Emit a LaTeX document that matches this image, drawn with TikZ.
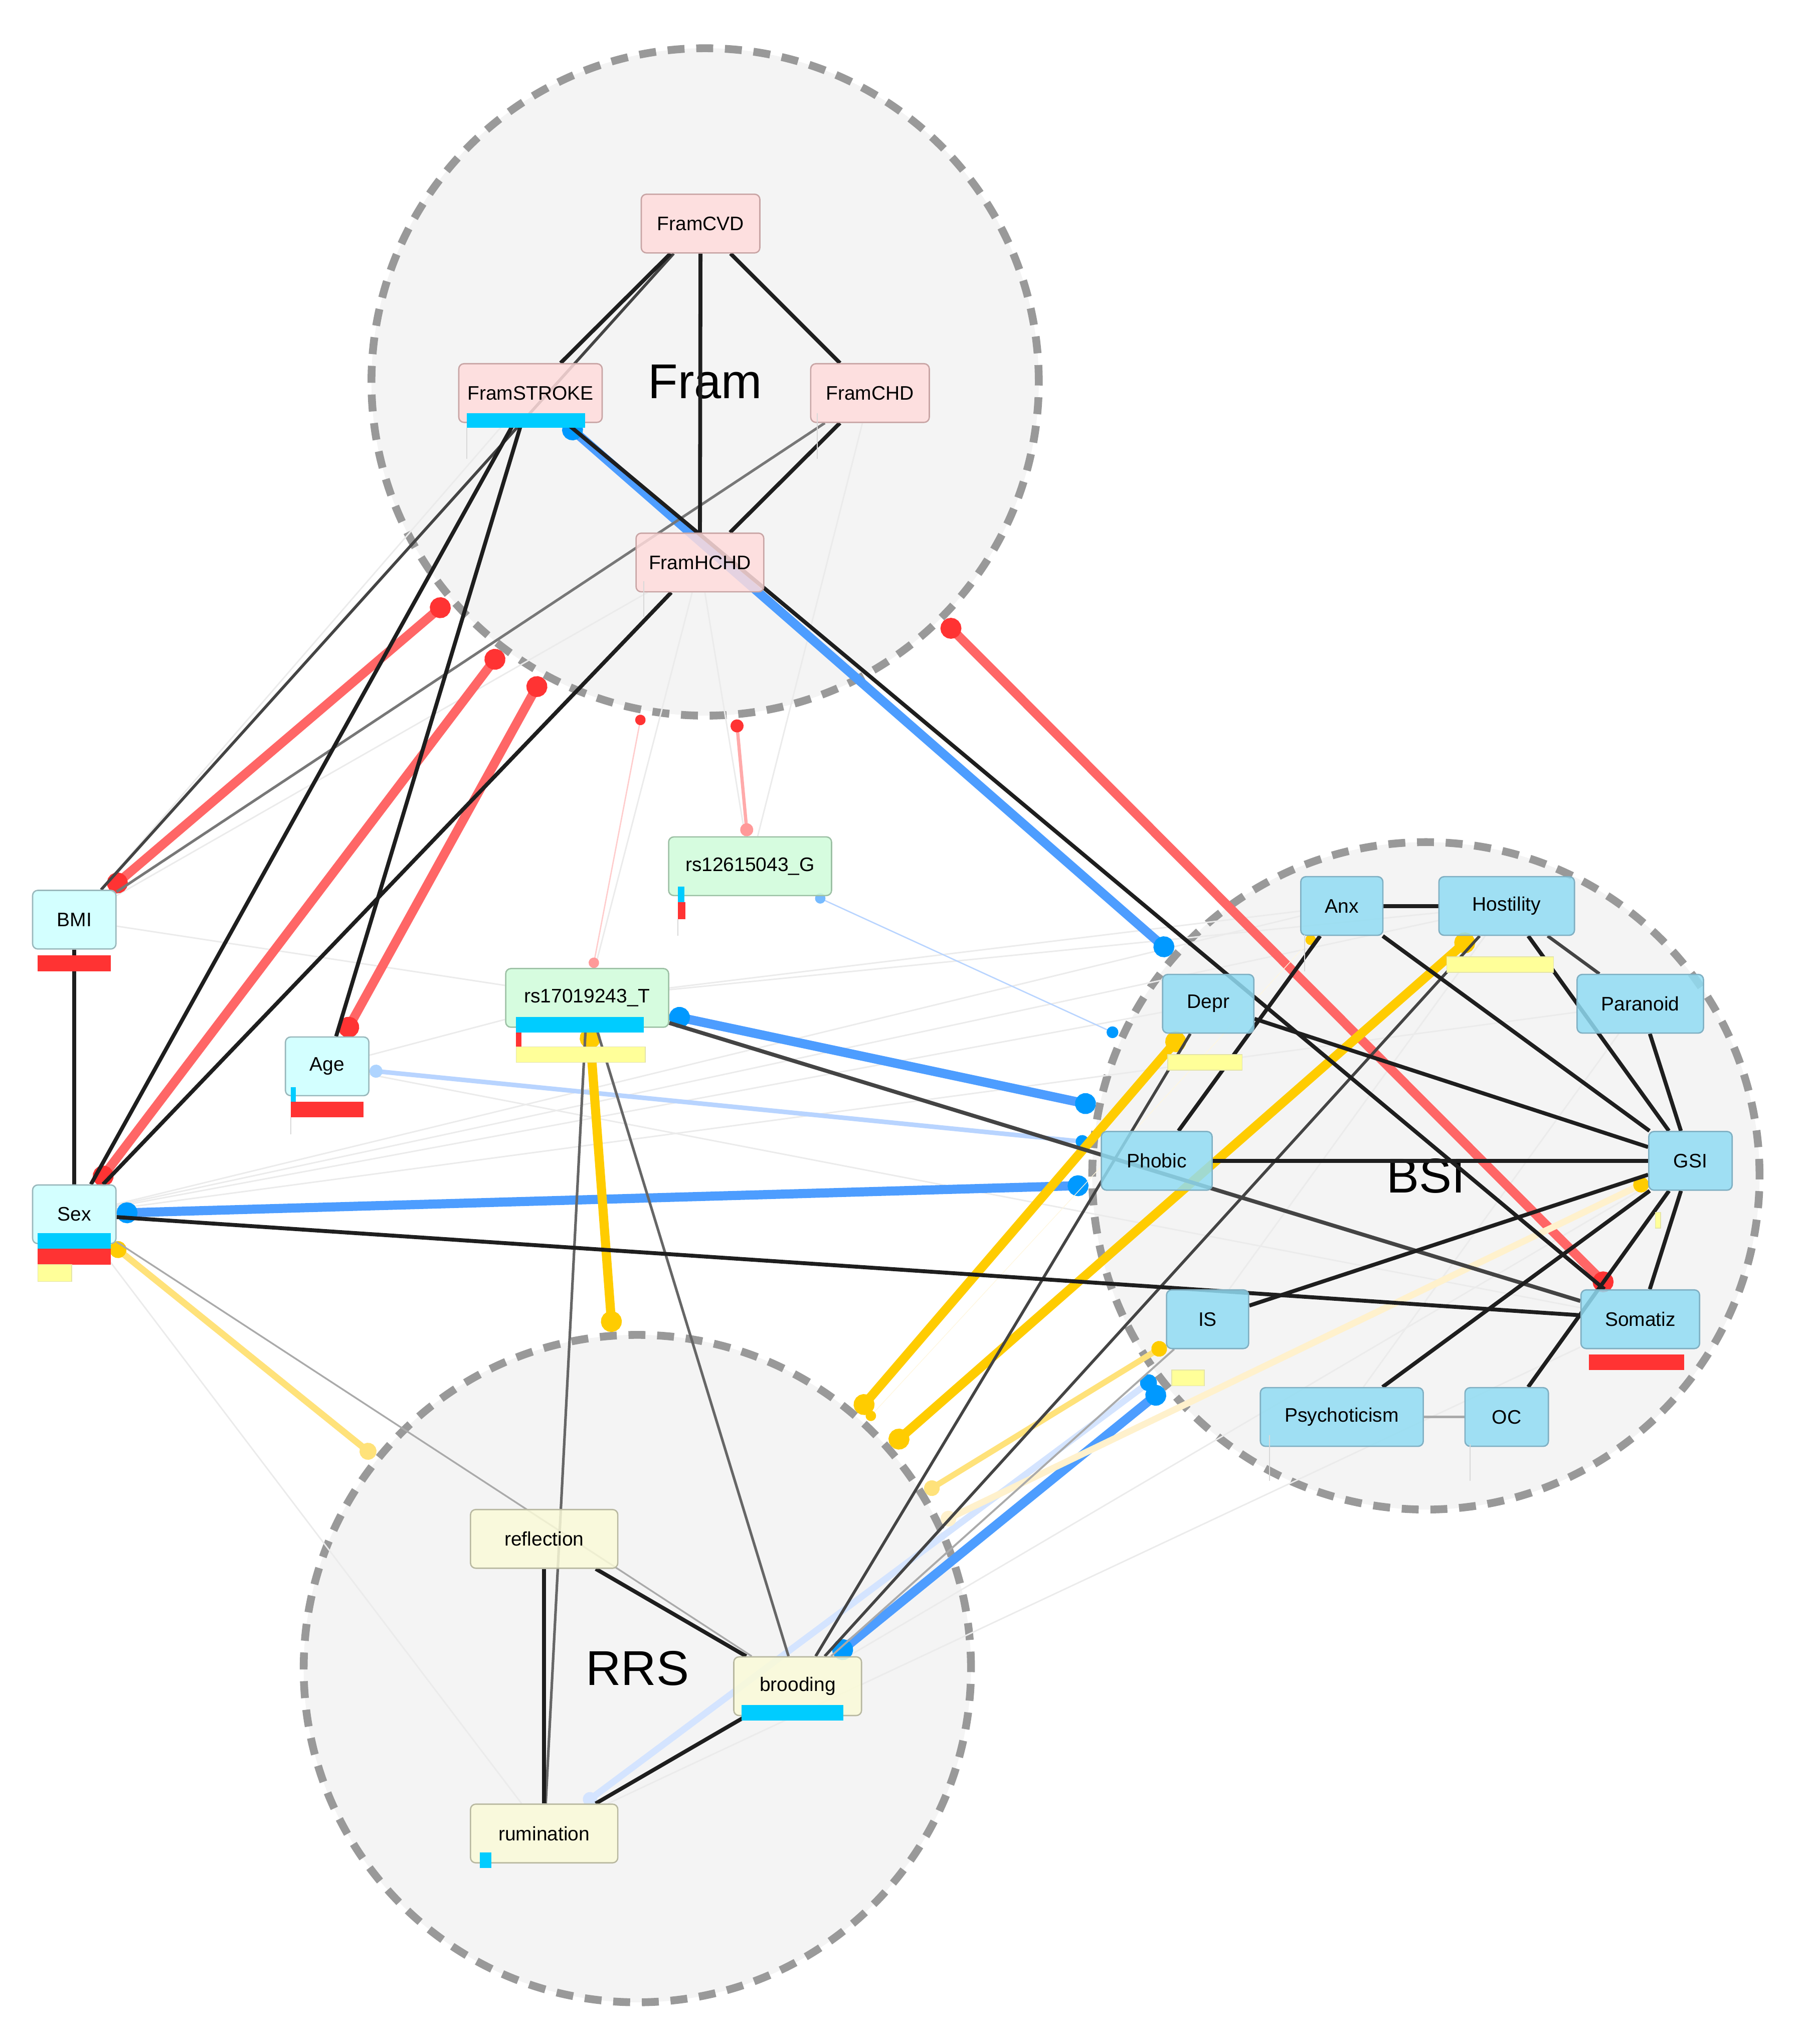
\documentclass[tikz,border=0pt]{standalone}
\usepackage{fontspec}
\setmainfont{Liberation Sans}
\usetikzlibrary{arrows.meta,calc}
\definecolor{framfill}{HTML}{FFDCDC}
\definecolor{framdraw}{HTML}{C8A4A4}
\definecolor{snpfill}{HTML}{CFFCDA}
\definecolor{snpdraw}{HTML}{9CC0A4}
\definecolor{covfill}{HTML}{CCFFFF}
\definecolor{covdraw}{HTML}{99B8BC}
\definecolor{bsifill}{HTML}{91DCF3}
\definecolor{bsidraw}{HTML}{7FAFC2}
\definecolor{rrsfill}{HTML}{FBFBD8}
\definecolor{rrsdraw}{HTML}{B8B8A0}
\definecolor{grpfill}{HTML}{F4F4F4}
\definecolor{grpdraw}{HTML}{999999}
\definecolor{barcyan}{HTML}{00CCFF}
\definecolor{barred}{HTML}{FF3333}
\definecolor{baryel}{HTML}{FFFF99}
\definecolor{baryeldraw}{HTML}{E4E4A8}
\definecolor{eblack}{HTML}{1E1E1E}
\definecolor{edark}{HTML}{444444}
\definecolor{emid}{HTML}{666666}
\definecolor{egray}{HTML}{777777}
\definecolor{elight}{HTML}{AAAAAA}
\definecolor{efaint}{HTML}{EBEBEB}
\definecolor{eaxis}{HTML}{D8D8D8}
\definecolor{redline}{HTML}{FF6666}
\definecolor{reddot}{HTML}{FF3333}
\definecolor{pinkline}{HTML}{FFAAAA}
\definecolor{pinkline2}{HTML}{FFCCCC}
\definecolor{pinkdot}{HTML}{FF9999}
\definecolor{blueline}{HTML}{4D9DFF}
\definecolor{bluedot}{HTML}{0099FF}
\definecolor{midbluedot}{HTML}{77BBFF}
\definecolor{lblueline}{HTML}{B8D4FF}
\definecolor{lbluedot}{HTML}{AED4FF}
\definecolor{llblueline}{HTML}{D4E4FF}
\definecolor{yelline}{HTML}{FFCC00}
\definecolor{yeldot}{HTML}{FFCC00}
\definecolor{lyelline}{HTML}{FFE27A}
\definecolor{llyelline}{HTML}{FFF1CC}
\definecolor{lllyelline}{HTML}{FFF7E0}
\pgfdeclarelayer{groups}
\pgfdeclarelayer{edges}
\pgfsetlayers{groups,edges,main}
\tikzset{
  nd/.style={rectangle, rounded corners=4pt, minimum height=45pt, inner sep=0pt, line width=1pt,
    font=\fontsize{15}{18}\selectfont, fill opacity=0.85, text opacity=1},
  framnd/.style={nd, fill=framfill, draw=framdraw},
  snpnd/.style={nd, fill=snpfill, draw=snpdraw},
  covnd/.style={nd, fill=covfill, draw=covdraw},
  bsind/.style={nd, fill=bsifill, draw=bsidraw},
  rrsnd/.style={nd, fill=rrsfill, draw=rrsdraw},
  grp/.style={circle, minimum size=512pt, inner sep=0pt, fill=grpfill, draw=grpdraw, line width=6pt,
    dash pattern=on 13pt off 9pt, font=\fontsize{37.5}{40}\selectfont},
  ln/.style 2 args={line width=#1, draw=#2},
  blk/.style={line width=3pt, draw=eblack},
  fnt/.style={line width=1.1pt, draw=efaint},
  axisln/.style={line width=0.8pt, draw=eaxis},
  ge/.style n args={6}{line width=#1, draw=#2, {Circle[length=#3,color=#4]}-{Circle[length=#5,color=#6]}},
  ybar/.style={fill=baryel, draw=baryeldraw, line width=0.6pt},
}
\begin{document}
\begin{tikzpicture}[x=1pt,y=-1pt]
\useasboundingbox (0,0) rectangle (1384,1568);
\begin{pgfonlayer}{groups}
\fill[white] (0,0) rectangle (1384,1568);
\node[grp] (FramG) at (541,293) {Fram};
\node[grp] (BSIG) at (1094,902) {BSI};
\node[grp] (RRSG) at (489,1280) {RRS};
\end{pgfonlayer}

% nodes
\node[framnd, minimum width=91pt] (FramCVD) at (537.5,171.5) {FramCVD};
\node[framnd, minimum width=110pt] (FramSTROKE) at (407,301.5) {FramSTROKE};
\node[framnd, minimum width=91pt] (FramCHD) at (667.5,301.5) {FramCHD};
\node[framnd, minimum width=98pt] (FramHCHD) at (537,431.5) {FramHCHD};
\node[snpnd, minimum width=125pt] (rsG) at (575.5,664.5) {rs12615043\_G};
\node[snpnd, minimum width=125pt] (rsT) at (450.5,765.5) {rs17019243\_T};
\node[covnd, minimum width=64pt] (BMI) at (57,705.5) {BMI};
\node[covnd, minimum width=64pt] (Age) at (251,818) {Age};
\node[covnd, minimum width=64pt] (Sex) at (57,931.5) {Sex};
\node[bsind, minimum width=63pt] (Anx) at (1029.5,695) {Anx};
\node[bsind, minimum width=104pt] (Hostility) at (1156,695) {Hostility};
\node[bsind, minimum width=70pt] (Depr) at (927,770) {Depr};
\node[bsind, minimum width=97pt] (Paranoid) at (1258.5,770) {Paranoid};
\node[bsind, minimum width=85pt] (Phobic) at (887.5,890.5) {Phobic};
\node[bsind, minimum width=64pt] (GSI) at (1297,890.5) {GSI};
\node[bsind, minimum width=63pt] (IS) at (926.5,1012) {IS};
\node[bsind, minimum width=91pt] (Somatiz) at (1258.5,1012) {Somatiz};
\node[bsind, minimum width=125pt] (Psychoticism) at (1029.5,1087) {Psychoticism};
\node[bsind, minimum width=64pt] (OC) at (1156,1087) {OC};
\node[rrsnd, minimum width=113pt] (reflection) at (417.5,1180.5) {reflection};
\node[rrsnd, minimum width=98pt] (brooding) at (612,1293.5) {brooding};
\node[rrsnd, minimum width=113pt] (rumination) at (417.5,1406.5) {rumination};

\begin{pgfonlayer}{edges}
% faint edges
\draw[fnt] (Sex) -- (Anx);
\draw[fnt] (Sex) -- (Hostility);
\draw[fnt] (Sex) -- (Depr);
\draw[fnt] (Sex) -- (Paranoid);
\draw[fnt] (Sex) -- (rumination);
\draw[fnt] (BMI) -- (rsT);
\draw[fnt] (BMI) -- (FramHCHD);
\draw[fnt] (BMI) -- (FramSTROKE);
\draw[fnt] (Age) -- (rsT);
\draw[fnt] (Age) -- (Somatiz);
\draw[fnt] (rsT) -- (Anx);
\draw[fnt] (rsT) -- (Hostility);
\draw[fnt] (FramHCHD) -- (rsT);
\draw[fnt] (FramCHD) -- (rsG);
\draw[fnt] (FramHCHD) -- (rsG);
\draw[fnt] (Somatiz) -- (rumination);
\draw[fnt] (GSI) -- (brooding);
\draw[fnt] (Psychoticism) -- (Paranoid);
\draw[fnt] (Hostility) -- (IS);

% group edges
\draw[ge={7pt}{redline}{16pt}{reddot}{16pt}{reddot}] (BMI) -- ($(FramG)!259pt!(BMI)$);
\draw[ge={7pt}{redline}{16pt}{reddot}{16pt}{reddot}] (Sex) -- ($(FramG)!259pt!(Sex)$);
\draw[ge={7pt}{redline}{16pt}{reddot}{16pt}{reddot}] (Age) -- ($(FramG)!259pt!(Age)$);
\draw[ge={7pt}{redline}{16pt}{reddot}{16pt}{reddot}] (Somatiz) -- ($(FramG)!259pt!(Somatiz)$);
\draw[ge={2.5pt}{pinkline}{10pt}{pinkdot}{10pt}{reddot}] (rsG) -- ($(FramG)!260pt!(rsG)$);
\draw[ge={1pt}{pinkline2}{8pt}{pinkdot}{8pt}{reddot}] (rsT) -- ($(FramG)!260pt!(rsT)$);

\draw[ge={7pt}{blueline}{16pt}{bluedot}{16pt}{bluedot}] (FramSTROKE) -- ($(BSIG)!259pt!(FramSTROKE)$);
\draw[ge={7pt}{blueline}{16pt}{bluedot}{16pt}{bluedot}] (rsT) -- ($(BSIG)!259pt!(rsT)$);
\draw[ge={7pt}{blueline}{16pt}{bluedot}{16pt}{bluedot}] (Sex) -- ($(BSIG)!259pt!(Sex)$);
\draw[ge={7pt}{blueline}{16pt}{bluedot}{16pt}{bluedot}] (brooding) -- ($(BSIG)!259pt!(brooding)$);
\draw[ge={1pt}{lblueline}{8pt}{midbluedot}{9pt}{bluedot}] (rsG) -- ($(BSIG)!260pt!(rsG)$);
\draw[ge={3.5pt}{lblueline}{10pt}{lbluedot}{10pt}{bluedot}] (Age) -- ($(BSIG)!260pt!(Age)$);
\draw[ge={5pt}{llblueline}{11pt}{llblueline}{13pt}{bluedot}] (rumination) -- ($(BSIG)!259pt!(rumination)$);

\draw[ge={7pt}{yelline}{16pt}{yeldot}{16pt}{yeldot}] (rsT) -- ($(RRSG)!259pt!(rsT)$);
\draw[ge={7pt}{yelline}{16pt}{yeldot}{16pt}{yeldot}] (Depr) -- ($(RRSG)!259pt!(Depr)$);
\draw[ge={7pt}{yelline}{16pt}{yeldot}{16pt}{yeldot}] (Hostility) -- ($(RRSG)!259pt!(Hostility)$);
\draw[ge={5pt}{lyelline}{13pt}{yeldot}{13pt}{lyelline}] (Sex) -- ($(RRSG)!259pt!(Sex)$);
\draw[ge={4.5pt}{lyelline}{12pt}{yeldot}{12pt}{lyelline}] (IS) -- ($(RRSG)!259pt!(IS)$);
\draw[ge={5pt}{llyelline}{12pt}{yeldot}{12pt}{llyelline}] (GSI) -- ($(RRSG)!259pt!(GSI)$);
\draw[ge={0.5pt}{lllyelline}{8pt}{yeldot}{8pt}{yeldot}] (Anx) -- ($(RRSG)!260pt!(Anx)$);

% grey edges
\draw[ln={2.2pt}{edark}] (FramCVD) -- (BMI);
\draw[ln={2pt}{egray}] (FramCHD) -- (BMI);
\draw[ln={1.3pt}{elight}] (Sex) -- (brooding);
\draw[ln={1.5pt}{elight}] (IS) -- (brooding);
\draw[ln={2pt}{emid}] (rsT) -- (rumination);
\draw[ln={2pt}{emid}] (rsT) -- (brooding);
\draw[ln={2.2pt}{edark}] (Depr) -- (brooding);
\draw[ln={2.2pt}{edark}] (Hostility) -- (brooding);
\draw[ln={2.5pt}{edark}] (Hostility) -- (Paranoid);
\draw[ln={2pt}{elight}] (Psychoticism) -- (OC);
\draw[ln={3pt}{edark}] (rsT) -- (Somatiz);

% black edges
\draw[blk] (FramCVD) -- (FramSTROKE);
\draw[blk] (FramCVD) -- (FramCHD);
\draw[blk] (FramCVD) -- (FramHCHD);
\draw[blk] (FramCHD) -- (FramHCHD);
\draw[blk] (FramSTROKE) -- (Sex);
\draw[blk] (FramSTROKE) -- (Age);
\draw[blk] (FramSTROKE) -- (Somatiz);
\draw[blk] (FramHCHD) -- (Sex);
\draw[blk] (BMI) -- (Sex);
\draw[blk] (Sex) -- (Somatiz);
\draw[blk] (Anx) -- (Hostility);
\draw[blk] (Anx) -- (Phobic);
\draw[blk] (Anx) -- (GSI);
\draw[blk] (Hostility) -- (GSI);
\draw[blk] (Paranoid) -- (GSI);
\draw[blk] (Depr) -- (GSI);
\draw[blk] (Phobic) -- (GSI);
\draw[blk] (IS) -- (GSI);
\draw[blk] (Somatiz) -- (GSI);
\draw[blk] (Psychoticism) -- (GSI);
\draw[blk] (OC) -- (GSI);
\draw[blk] (reflection) -- (rumination);
\draw[blk] (reflection) -- (brooding);
\draw[blk] (brooding) -- (rumination);
\end{pgfonlayer}

% bar charts under the nodes
\fill[barcyan] (358,317) rectangle (449,328);
\fill[barcyan] (520,680) rectangle (525,692);
\fill[barred] (520,692) rectangle (526,705);
\fill[barcyan] (396,780) rectangle (494,792);
\fill[barred] (396,792) rectangle (400,803);
\path[ybar] (396,803) rectangle (495,815);
\fill[barred] (29,733) rectangle (85,745);
\fill[barcyan] (223,834) rectangle (227,846);
\fill[barred] (223,845) rectangle (279,857);
\fill[barcyan] (29,946) rectangle (85,958);
\fill[barred] (29,958) rectangle (85,970);
\path[ybar] (29,970) rectangle (55,983);
\path[ybar] (1110,734) rectangle (1192,746);
\path[ybar] (896,809) rectangle (953,821);
\path[ybar] (1270,930) rectangle (1274,942);
\path[ybar] (899,1051) rectangle (924,1063);
\fill[barred] (1219,1039) rectangle (1292,1051);
\fill[barcyan] (569,1308) rectangle (647,1320);
\fill[barcyan] (368,1421) rectangle (377,1433);

% bar axes
\draw[axisln] (358,328) -- (358,352);
\draw[axisln] (627,317) -- (627,352);
\draw[axisln] (494,446) -- (494,473);
\draw[axisln] (223,857) -- (223,870);
\draw[axisln] (520,705) -- (520,718);
\draw[axisln] (974,1101) -- (974,1136);
\draw[axisln] (1128,1108) -- (1128,1136);
\draw[axisln] (1001,717) -- (1001,745);
\end{tikzpicture}
\end{document}
